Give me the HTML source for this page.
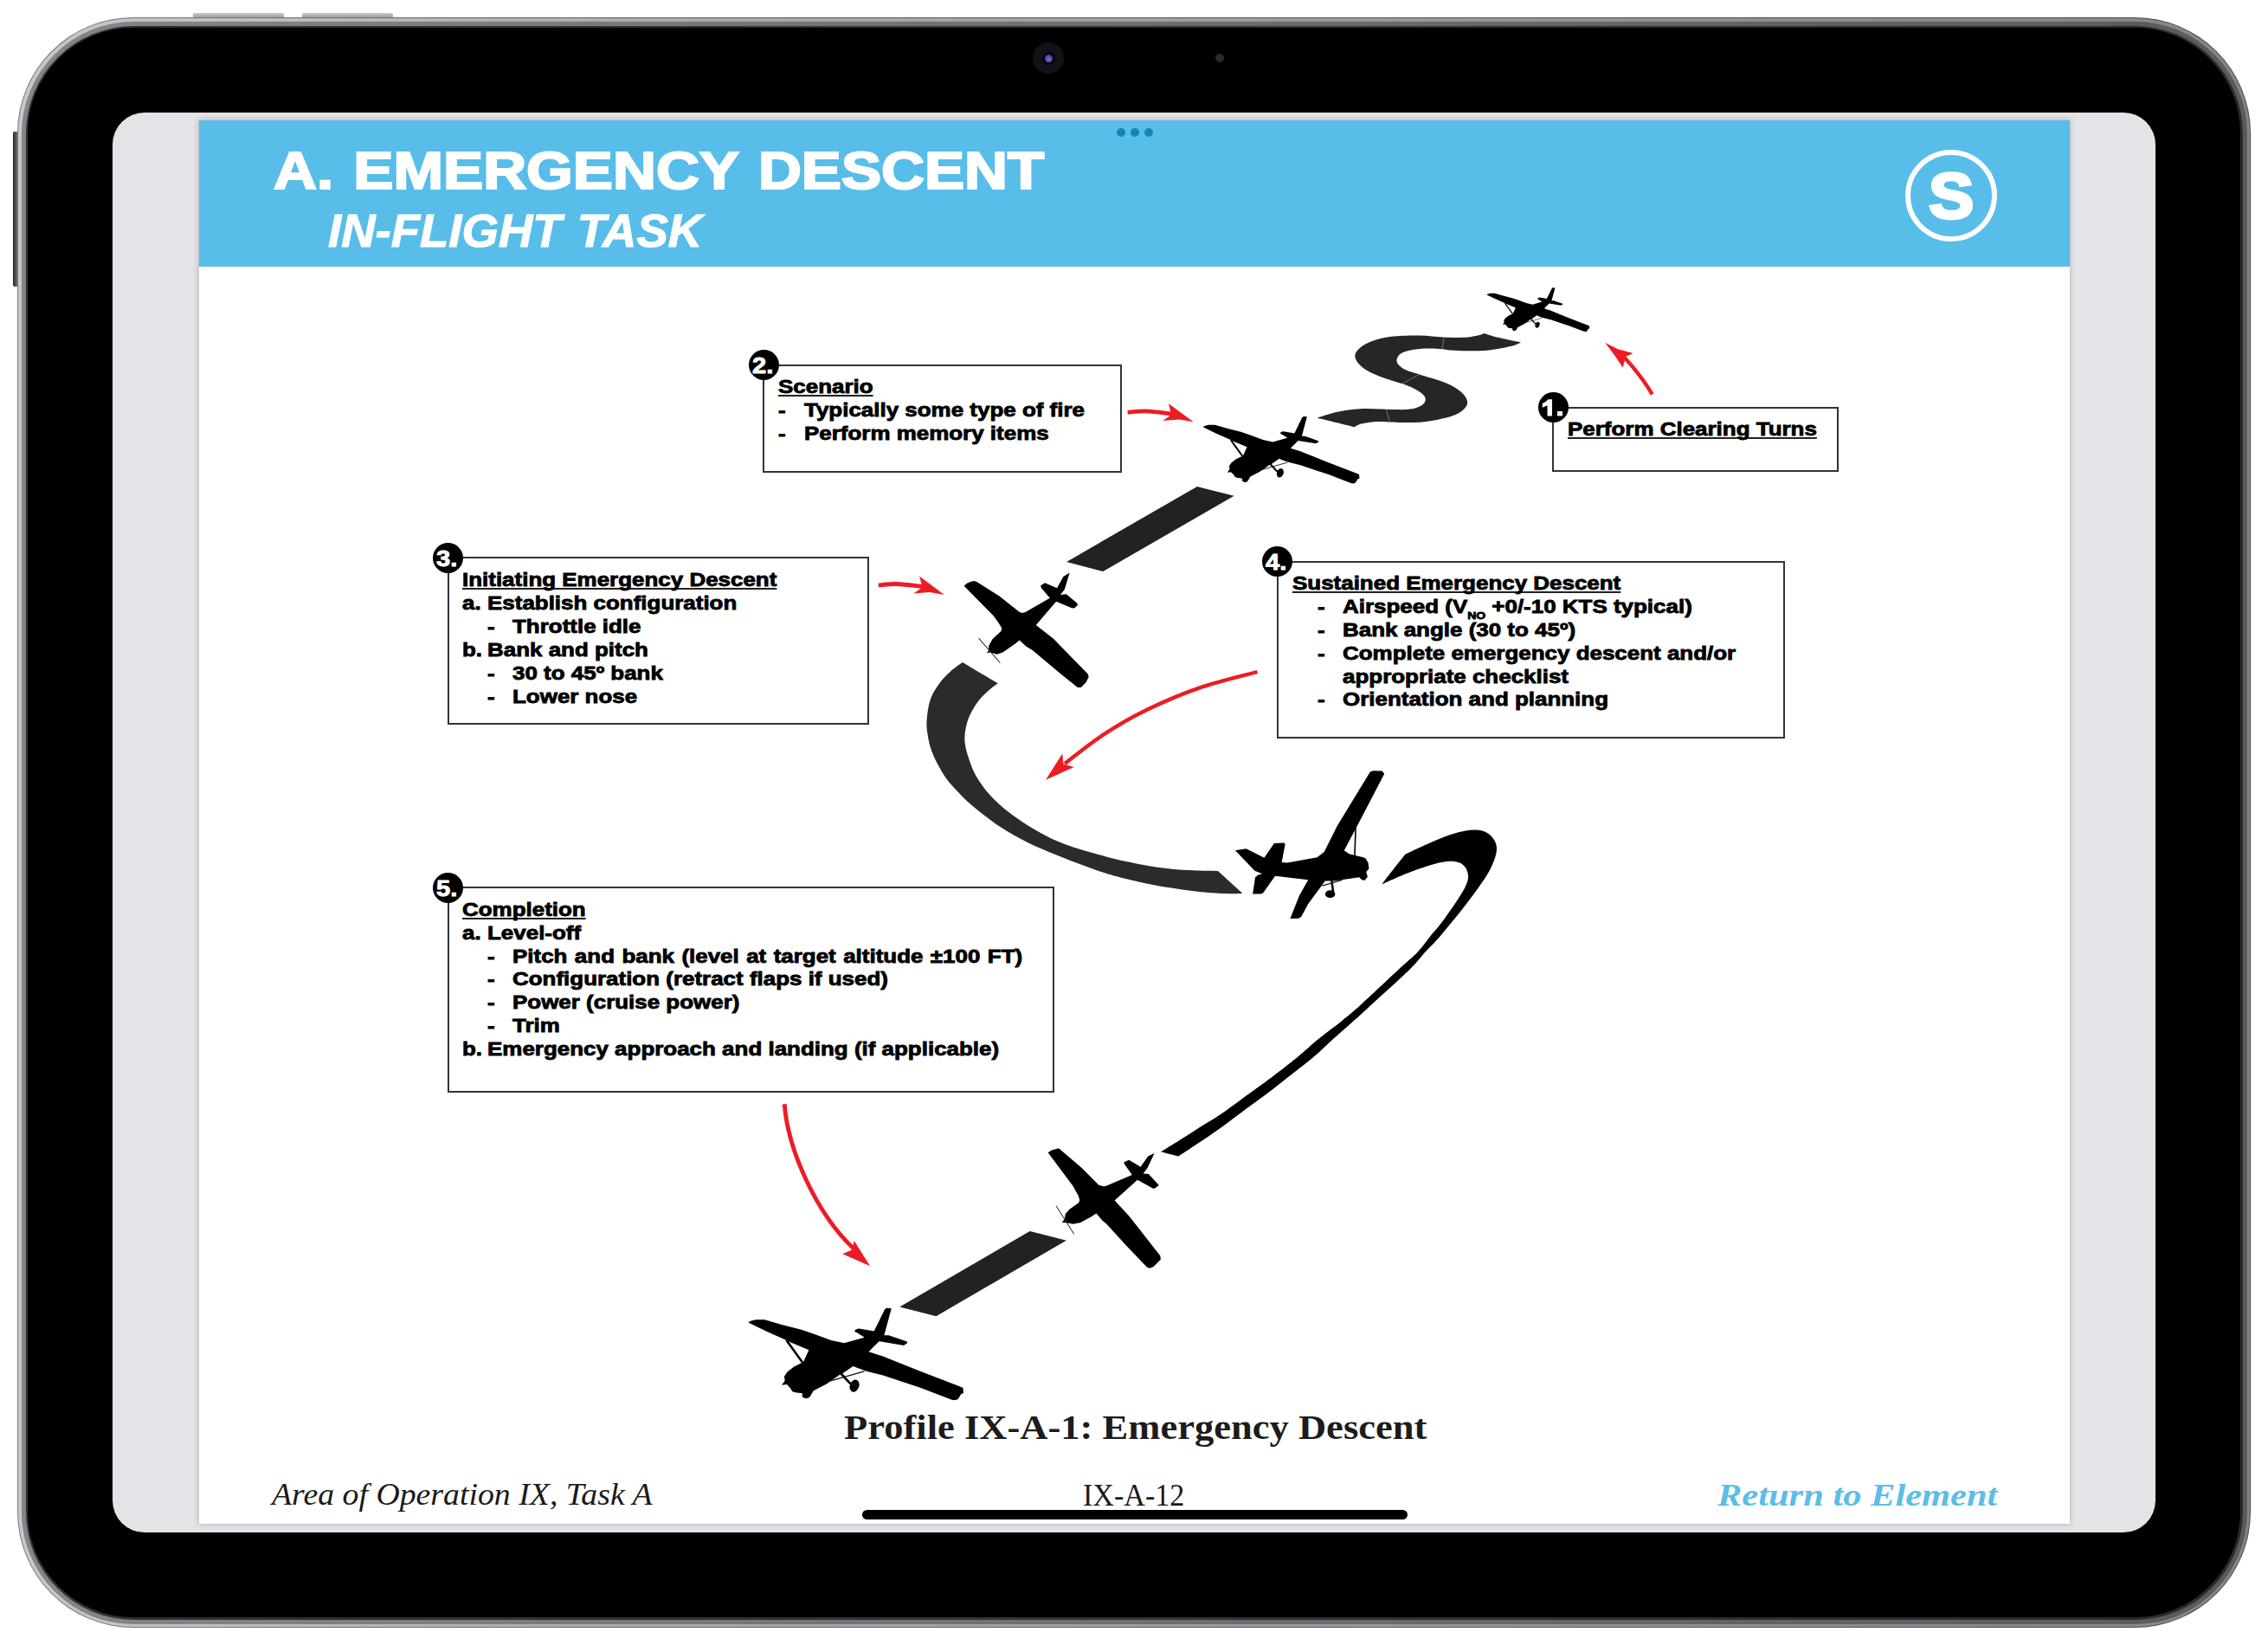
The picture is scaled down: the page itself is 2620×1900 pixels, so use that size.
<!DOCTYPE html>
<html><head><meta charset="utf-8">
<style>
*{margin:0;padding:0;box-sizing:border-box}
html,body{width:2620px;height:1900px;overflow:hidden;background:#fff}
body{position:relative;font-family:"Liberation Sans",sans-serif}
.abs{position:absolute}
#rim{left:20px;top:20px;width:2580px;height:1860px;border-radius:134px;
 background:linear-gradient(90deg,#7a797d 0%,#626165 30%,#58585c 60%,#4a494c 100%)}
#rim2{left:21.2px;top:21.2px;width:2577.6px;height:1857.6px;border-radius:133px;
 background:linear-gradient(90deg,#c8c7cb 0%,#adacb0 25%,#a09fa3 50%,#918f93 75%,#858487 100%)}
#rim3{left:24.5px;top:24.5px;width:2571px;height:1851px;border-radius:129.5px;
 background:linear-gradient(90deg,#858488 0%,#78777b 30%,#6e6d71 50%,#5a595c 100%)}
#rim4{left:29.5px;top:29.5px;width:2561px;height:1841px;border-radius:124.5px;
 background:linear-gradient(90deg,#303030,#353535 50%,#2a2a2a)}
#bezel{left:32px;top:32px;width:2556px;height:1836px;border-radius:122px;background:#000}
.btn{background:linear-gradient(#c8c8ca,#8a8a8c);border-radius:2px}
#screen{left:130px;top:130px;width:2360px;height:1640px;border-radius:37px;background:#e4e3e8;overflow:hidden}
#page{left:230px;top:139px;width:2161px;height:1621px;background:#fff;
 box-shadow:0 0 6px 1px rgba(0,0,0,0.18)}
#hdr{left:230px;top:139px;width:2161px;height:169px;background:#58bde9}
.t{position:absolute;white-space:pre;transform-origin:0 0;line-height:27px}
.b{font-weight:bold;font-size:21.4px;color:#000}
.u{text-decoration:underline;text-decoration-thickness:2px;text-underline-offset:2px}
.box{position:absolute;border:2px solid #333;background:transparent}
.num{position:absolute;width:35px;height:35px;border-radius:50%;background:#000}
.numt{position:absolute;color:#fff;font-weight:bold;font-size:26px;line-height:26px;white-space:pre;transform-origin:0 0}
</style></head><body>
<div class="abs btn" style="left:223px;top:15px;width:105px;height:8px"></div>
<div class="abs btn" style="left:349px;top:15px;width:105px;height:8px"></div>
<div class="abs" style="left:15px;top:152px;width:9px;height:179px;background:linear-gradient(90deg,#222,#6a6a6c 50%,#333);border-radius:2px"></div>
<div id="rim" class="abs"></div>
<div id="rim2" class="abs"></div>
<div id="rim3" class="abs"></div>
<div id="rim4" class="abs"></div>
<div id="bezel" class="abs"></div>
<div class="abs" style="left:1193px;top:49px;width:36px;height:36px;border-radius:50%;background:#141118"></div>
<div class="abs" style="left:1203.5px;top:59.5px;width:15px;height:15px;border-radius:50%;background:#05050c"></div>
<div class="abs" style="left:1206.5px;top:62.5px;width:9px;height:9px;border-radius:50%;background:radial-gradient(circle at 50% 60%,#8a6ad0,#3a4aa0 60%,#1a2050)"></div>
<div class="abs" style="left:1404px;top:62px;width:10px;height:10px;border-radius:50%;background:#2a2a2a"></div>
<div id="screen" class="abs"></div>
<div id="page" class="abs"></div>
<div id="hdr" class="abs"></div>
<div class="abs" style="left:1289.8px;top:148px;width:10px;height:10px;border-radius:50%;background:#1484b9"></div>
<div class="abs" style="left:1305.7px;top:148px;width:10px;height:10px;border-radius:50%;background:#1484b9"></div>
<div class="abs" style="left:1321.8px;top:148px;width:10px;height:10px;border-radius:50%;background:#1484b9"></div>
<div class="t" style="left:315.5px;top:160.12px;font-size:62px;line-height:74px;transform:scaleX(1.115);font-weight:bold;color:#fff;-webkit-text-stroke:2.2px #fff;word-spacing:3.6px;">A. EMERGENCY DESCENT</div><div class="t" style="left:378.5px;top:233.79px;font-size:54px;line-height:65px;transform:scaleX(1.01);font-weight:bold;font-style:italic;color:#fff;-webkit-text-stroke:1.1px #fff;word-spacing:3px;">IN-FLIGHT TASK</div><div class="abs" style="left:2201.3px;top:172.6px;width:106px;height:106px;border-radius:50%;border:6.5px solid #fff"></div><div class="t" style="left:2228.0px;top:181.31px;font-size:75px;line-height:90px;transform:scaleX(1.045);font-weight:bold;color:#fff;-webkit-text-stroke:3.5px #fff;">S</div>
<svg class="abs" style="left:0;top:0" width="2620" height="1900" viewBox="0 0 2620 1900">
<defs><g id="planeA"><path d="M60,305 L100,285 L180,265 L320,265 L600,345 L900,420 L1100,490 L1370,590 L1580,635 L1900,545 L1782,470 L1740,450 L1760,420 L1810,405 L2052,445 L2222,100 L2252,80 L2327,85 L2212,510 L2282,510 L2572,610 L2582,630 L2522,670 L2132,605 L1967,770 L2182,840 L2782,1080 L3432,1330 L3462,1345 L3467,1430 L3432,1440 L3382,1520 L3332,1540 L3282,1530 L2782,1340 L2182,1140 L1957,1085 L1902,1070 L1782,1025 L1720,1000 L1560,1110 L1500,1140 L1300,1280 L1090,1390 L1040,1480 L1010,1505 L960,1510 L910,1480 L920,1440 L900,1425 L820,1420 L760,1400 L720,1340 L670,1290 L590,1300 L640,1230 L630,1160 L680,1090 L780,1010 L900,950 L940,920 L1020,745 L700,610 L640,580 L350,450 L80,320 Z" fill="#000"/><line x1="665" y1="590" x2="915" y2="935" stroke="#000" stroke-width="36"/><line x1="1530" y1="1120" x2="1680" y2="1280" stroke="#000" stroke-width="38"/><ellipse cx="1742" cy="1310" rx="72" ry="100" transform="rotate(20 1742 1310)" fill="#000"/><line x1="1340" y1="1240" x2="1900" y2="1080" stroke="#111" stroke-width="17"/></g></defs>
<path d="M1756.9,395.5 C1756.9,395.5 1738.8,391.9 1731.7,390.1 C1724.6,388.3 1714.5,384.9 1714.5,384.9 C1714.5,384.9 1709.7,387 1705.9,387.8 C1702.1,388.6 1698,389.5 1691.6,389.8 C1685.2,390.1 1676.1,389.9 1667.5,389.5 C1658.9,389.1 1650.1,387.6 1640,387.5 C1629.9,387.4 1616.2,387.7 1607,388.8 C1597.8,389.9 1590.9,392 1585,394.1 C1579.1,396.2 1574.9,398.7 1571.7,401.2 C1568.5,403.7 1566.3,406.5 1565.6,409.1 C1564.9,411.7 1565.5,414.2 1567.3,417 C1569,419.8 1571.7,422.9 1576.1,425.9 C1580.5,428.8 1586.6,431.8 1593.8,434.7 C1601,437.6 1612.7,440.8 1619.3,443.1 C1625.9,445.5 1629.4,446.7 1633.5,448.8 C1637.6,450.9 1641.8,453.6 1644,455.8 C1646.2,458 1647,459.9 1646.7,462 C1646.4,464.1 1645.2,466.4 1642.3,468.2 C1639.3,470 1634.9,471.8 1629,472.6 C1623.1,473.4 1616.5,473.1 1607,473 C1597.5,472.9 1582,471.8 1571.7,472.2 C1561.4,472.6 1553.7,473.9 1545.3,475.7 C1536.9,477.4 1521.5,482.7 1521.5,482.7 C1521.5,482.7 1564.7,493.3 1564.7,493.3 C1564.7,493.3 1567.6,490.8 1571.7,489.8 C1575.8,488.8 1583.8,487.5 1589.4,487.1 C1595,486.7 1597.9,487.2 1605.2,487.4 C1612.5,487.5 1624.4,488.4 1633.5,488 C1642.6,487.6 1651.8,486.4 1659.9,484.9 C1668,483.4 1676.4,481.3 1682,478.8 C1687.6,476.3 1691.4,472.8 1693.4,469.9 C1695.5,466.9 1695.5,464.2 1694.3,461.1 C1693.1,458 1690.7,454.6 1686.4,451.4 C1682.1,448.2 1676.5,444.8 1668.7,441.7 C1660.9,438.6 1646.9,434.9 1639.6,432.5 C1632.2,430.1 1628.6,429.5 1624.6,427.6 C1620.6,425.8 1617.6,423.4 1615.8,421.4 C1614,419.3 1613.1,417.5 1613.6,415.3 C1614,413.1 1615.2,410.1 1618.5,408.2 C1621.8,406.3 1628.1,404.8 1633.5,403.8 C1638.9,402.9 1645.8,402.6 1651.1,402.5 C1656.4,402.4 1661.6,403 1665.5,403.3 C1669.4,403.6 1669.1,404.1 1674.4,404.4 C1679.7,404.7 1689.7,405.3 1697.3,405.3 C1704.9,405.3 1712.1,405.3 1720.2,404.4 C1728.3,403.5 1739.9,401.3 1746,399.8 C1752.1,398.3 1756.9,395.5 1756.9,395.5 Z" fill="#262626"/><g stroke="#8a8a8a" stroke-width="0.8"><line x1="1668.1" y1="389.7" x2="1666.1" y2="403.2"/><line x1="1638.7" y1="432.9" x2="1620.2" y2="443.1"/><line x1="1601.3" y1="472.6" x2="1605.2" y2="487.1"/></g><path d="M1382.9,562.1 L1425.6,572.8 L1274.3,660.1 L1232.1,648.9 Z" fill="#222"/><path d="M1111.9,765.1 C1111.9,765.1 1102.7,771.3 1098.3,775.3 C1093.9,779.3 1089,784.3 1085.5,788.9 C1082,793.5 1079.1,798.2 1077,802.6 C1074.9,807 1073.9,810.3 1072.8,815.3 C1071.7,820.2 1070.9,827.3 1070.6,832.3 C1070.3,837.3 1070.4,840.1 1071.1,845.1 C1071.8,850.1 1072.8,856.4 1074.5,862.1 C1076.2,867.8 1078.2,873 1081.3,879.1 C1084.4,885.2 1088.8,893.1 1093,899 C1097.2,904.9 1101.7,909.4 1106.5,914.5 C1111.3,919.6 1113.9,922.7 1121.9,929.4 C1129.9,936.1 1143.8,947.3 1154.7,954.6 C1165.6,961.9 1176.6,967.7 1187.5,973.2 C1198.4,978.7 1209.9,983.1 1220.3,987.4 C1230.7,991.7 1240,995.3 1250,999 C1260,1002.7 1268.4,1006 1280,1009.4 C1291.6,1012.8 1307.8,1016.8 1319.7,1019.4 C1331.6,1022 1340.8,1023.6 1351.4,1025.3 C1362,1027 1372.6,1028.6 1383.2,1029.7 C1393.8,1030.8 1406.2,1031.7 1414.9,1032.1 C1423.6,1032.5 1435.6,1032.1 1435.6,1032.1 C1435.6,1032.1 1407,1005.9 1407,1005.9 C1407,1005.9 1391.1,1005.8 1383.2,1005.5 C1375.3,1005.2 1368.7,1005.2 1359.4,1004.3 C1350.1,1003.4 1336.9,1001.8 1327.6,1000.3 C1318.3,998.8 1311.7,997.3 1303.8,995.6 C1295.9,993.9 1292.1,993.4 1280,990 C1267.9,986.6 1244.9,980.4 1231.3,975.4 C1217.7,970.4 1209.5,966.2 1198.5,960 C1187.5,953.8 1174.7,945.1 1165.6,938.2 C1156.5,931.3 1150.1,925.4 1143.8,918.5 C1137.5,911.6 1132,903.9 1128,897 C1124,890.1 1121.7,883.2 1119.6,877.4 C1117.5,871.6 1116.1,866.8 1115.3,862.1 C1114.5,857.4 1114.1,854.4 1114.5,849.4 C1114.9,844.4 1116.2,837.5 1117.9,832.3 C1119.6,827 1121.9,822.6 1124.7,817.9 C1127.5,813.2 1131.5,808.1 1134.9,804.3 C1138.3,800.5 1142.1,797.4 1145.1,794.9 C1148.1,792.4 1152.8,789.4 1152.8,789.4 C1152.8,789.4 1111.9,765.1 1111.9,765.1 Z" fill="#2b2b2b"/><path d="M1596.1,1021.5 C1596.1,1021.5 1623.3,986.8 1623.3,986.8 C1623.3,986.8 1662.5,968.1 1677.3,963.6 C1692.1,959.1 1703.5,957.4 1712,959.5 C1720.5,961.6 1726.8,968.8 1728.5,976 C1730.2,983.2 1727.2,992.3 1722,1003 C1716.8,1013.7 1706.5,1027.2 1697,1040 C1687.5,1052.8 1673.2,1070 1664.8,1080 C1656.3,1090 1652.4,1093.1 1646.3,1099.8 C1640.2,1106.5 1639.2,1109.2 1628.2,1120 C1617.2,1130.8 1591.5,1153.9 1580,1164.4 C1568.5,1174.9 1566.2,1176.9 1559.4,1182.9 C1552.7,1188.9 1546.3,1194.4 1539.5,1200.6 C1532.7,1206.8 1525.8,1213.7 1518.4,1220 C1511,1226.3 1503.5,1232.1 1495.2,1238.6 C1486.9,1245.1 1477.6,1252.5 1468.8,1259.2 C1460,1265.9 1452.2,1271.5 1442.3,1278.8 C1432.4,1286.1 1419.3,1296.2 1409.4,1303.3 C1399.5,1310.4 1390.9,1315.9 1382.9,1321.3 C1374.9,1326.7 1361.2,1335.6 1361.2,1335.6 C1361.2,1335.6 1341.1,1330.3 1341.1,1330.3 C1341.1,1330.3 1349.5,1325.2 1356.5,1320.8 C1363.5,1316.4 1374.1,1309.5 1382.9,1303.9 C1391.7,1298.4 1400.9,1293.2 1409.4,1287.5 C1417.9,1281.8 1425.6,1275.9 1433.7,1270 C1441.8,1264.1 1449.7,1258.6 1458.2,1252.3 C1466.7,1246 1477.7,1237.6 1484.7,1232.2 C1491.7,1226.8 1493.4,1225.5 1500,1220 C1506.6,1214.5 1515.8,1206 1524.1,1199.2 C1532.4,1192.4 1541.6,1185.9 1549.7,1179.4 C1557.8,1172.9 1561.6,1169.9 1572.6,1160 C1583.5,1150.1 1604.6,1130 1615.4,1120 C1626.2,1110 1631.2,1106.5 1637.5,1099.8 C1643.8,1093.1 1648.4,1086.2 1653.4,1080 C1658.4,1073.8 1661.1,1071.8 1667.5,1062.8 C1673.9,1053.8 1687.2,1035 1691.9,1025.9 C1696.6,1016.8 1696.5,1012.9 1695.5,1008 C1694.5,1003.1 1691.1,998.5 1686,996.5 C1680.9,994.5 1674.6,994.2 1665,996 C1655.4,997.8 1640.1,1003.1 1628.6,1007.4 C1617.1,1011.6 1596.1,1021.5 1596.1,1021.5 Z" fill="#000"/><path d="M1189.7,1422 L1231.9,1432.7 L1081.4,1520.2 L1039.3,1509.5 Z" fill="#222"/>
<use href="#planeA" transform="translate(1715.30,329.50) scale(0.03487)"/><use href="#planeA" transform="translate(1386.50,476.80) scale(0.05304)"/><g transform="translate(1100,650) scale(0.09725)"><path d="M140,275 L175,245 L230,220 L265,215 L295,228 L560,395 L800,585 L830,597 L870,587 L1160,420 L1055,295 L1052,270 L1100,240 L1245,300 L1320,165 L1395,118 L1335,315 L1285,380 L1355,372 L1485,480 L1490,505 L1450,540 L1420,537 L1235,460 L995,740 L1200,900 L1610,1320 L1622,1355 L1590,1420 L1530,1480 L1490,1482 L1300,1330 L950,1035 L880,995 L800,920 L745,965 L600,1065 L530,1087 L480,1072 L440,1065 L410,1075 L432,1040 L435,985 L480,905 L580,812 L590,780 L555,720 L490,630 Z" fill="#000"/><line x1="315" y1="895" x2="570" y2="1190" stroke="#333" stroke-width="11"/></g><g transform="translate(1420,880) scale(0.11547)"><path d="M1410,100 L1440,88 L1530,90 L1552,118 L1280,640 L1150,885 L1200,920 L1340,955 L1365,965 L1390,1010 L1398,1070 L1370,1100 L1385,1150 L1355,1185 L1330,1182 L1300,1155 L1050,1190 L960,1190 L790,1420 L720,1550 L690,1565 L610,1567 L700,1340 L790,1180 L460,1140 L340,1310 L320,1320 L235,1320 L260,1155 L290,1130 L330,1120 L255,1090 L60,885 L170,868 L350,960 L450,815 L550,810 L560,822 L525,1005 L580,1010 L880,955 L950,900 L1080,640 Z" fill="#000"/><line x1="1025" y1="1190" x2="1040" y2="1300" stroke="#000" stroke-width="22"/><ellipse cx="1010" cy="1322" rx="50" ry="38" fill="#000"/><line x1="1265" y1="660" x2="1255" y2="945" stroke="#000" stroke-width="14"/><line x1="930" y1="1240" x2="1130" y2="1180" stroke="#222" stroke-width="12"/></g><g transform="translate(1190,1310) scale(0.10333)"><path d="M200,205 L240,180 L320,158 L580,380 L770,570 L820,583 L850,578 L1140,455 L1050,330 L1050,312 L1105,288 L1235,365 L1320,245 L1390,213 L1310,380 L1265,440 L1325,445 L1440,570 L1390,607 L1375,607 L1200,510 L945,740 L1110,920 L1455,1360 L1460,1400 L1380,1480 L1340,1497 L1310,1490 L1080,1250 L850,1000 L810,968 L740,885 L710,905 L690,920 L560,990 L480,1005 L430,995 L355,985 L385,950 L395,890 L440,840 L540,770 L555,740 L540,690 L480,580 Z" fill="#000"/><line x1="290" y1="800" x2="490" y2="1115" stroke="#333" stroke-width="10"/></g><use href="#planeA" transform="translate(860.00,1505.00) scale(0.07296)"/>
<path d="M1908.6,455.5 C1901.3,442.5 1886.7,423.2 1875,411.5" fill="none" stroke="#ec1c24" stroke-width="4.4"/><path d="M1854.1,395.7 L1869,403.3 L1886.7,407.9 L1878.4,411.8 L1874.5,424.4 L1865.3,410.5 Z" fill="#ec1c24"/><path d="M1302.6,476.3 C1306.1,476.1 1316,474.7 1323.9,474.9 C1331.8,475.1 1344.3,476.9 1350,477.6 C1355.7,478.3 1356.7,478.8 1358,479" fill="none" stroke="#ec1c24" stroke-width="4.8"/><path d="M1349.9,465.9 L1362,475 L1378.7,487.3 L1362,484.5 L1343.1,486 L1352.5,479.5 L1352,474 Z" fill="#ec1c24"/><path d="M1014.8,675.9 C1018.4,675.7 1028.2,674.3 1036.1,674.5 C1044,674.7 1056.5,676.5 1062.2,677.2 C1067.9,677.9 1068.9,678.4 1070.2,678.6" fill="none" stroke="#ec1c24" stroke-width="4.8"/><path d="M1062.1,665.5 L1074.2,674.6 L1090.9,686.9 L1074.2,684.1 L1055.3,685.6 L1064.7,679.1 L1064.2,673.6 Z" fill="#ec1c24"/><path d="M1452.5,776 C1441.3,779.1 1406.7,787.2 1385.2,794.6 C1363.7,802 1342,811.5 1323.5,820.5 C1305,829.5 1289.7,838.6 1274.1,848.9 C1258.5,859.1 1237.3,876.5 1230,882" fill="none" stroke="#ec1c24" stroke-width="4.3"/><path d="M1208,900.7 L1227.2,870.5 L1228.5,882.5 L1240.7,885.9 Z" fill="#ec1c24"/><path d="M906.2,1275.3 C910.2,1328 943,1402 987,1443" fill="none" stroke="#ec1c24" stroke-width="4.8"/><path d="M1005.1,1462.3 L973.2,1448.3 L984.5,1443.5 L986.6,1433 Z" fill="#ec1c24"/>
</svg>
<div class="box" style="left:1793.3px;top:469.6px;width:330.5px;height:75.6px"></div><div class="num" style="left:1776.8px;top:453.1px"></div><svg class="abs" style="left:0;top:0" width="2620" height="1900"><path d="M1787.5,480.4 L1793.0,480.4 L1793.0,461.2 L1788.5,461.2 L1785.5,464.0 L1781.8,466.1 L1781.8,470.8 L1787.5,468.3 Z" fill="#fff"/><rect x="1799.0" y="475.0" width="6" height="5.4" fill="#fff"/></svg><div class="t" style="left:1811.0px;top:482.78px;font-size:21.4px;line-height:26px;transform:scaleX(1.213);font-weight:bold;color:#000;-webkit-text-stroke:0.8px #000;text-decoration:underline;text-decoration-thickness:1.7px;text-underline-offset:1.6px;text-decoration-color:#222;text-decoration-skip-ink:none;">Perform Clearing Turns</div><div class="box" style="left:881.4px;top:420.6px;width:414.3px;height:125.2px"></div><div class="num" style="left:864.9px;top:404.1px"></div><div class="t" style="left:868.6px;top:406.22px;font-size:26.5px;line-height:32px;transform:scaleX(1.1);font-weight:bold;color:#fff;-webkit-text-stroke:0.9px #fff;">2.</div><div class="t" style="left:899.0px;top:433.58px;font-size:21.4px;line-height:26px;transform:scaleX(1.213);font-weight:bold;color:#000;-webkit-text-stroke:0.8px #000;text-decoration:underline;text-decoration-thickness:1.7px;text-underline-offset:1.6px;text-decoration-color:#222;text-decoration-skip-ink:none;">Scenario</div><div class="t" style="left:899.0px;top:460.68px;font-size:21.4px;line-height:26px;transform:scaleX(1.213);font-weight:bold;color:#000;-webkit-text-stroke:0.8px #000;">-</div><div class="t" style="left:928.9px;top:460.68px;font-size:21.4px;line-height:26px;transform:scaleX(1.213);font-weight:bold;color:#000;-webkit-text-stroke:0.8px #000;">Typically some type of fire</div><div class="t" style="left:899.0px;top:487.58px;font-size:21.4px;line-height:26px;transform:scaleX(1.213);font-weight:bold;color:#000;-webkit-text-stroke:0.8px #000;">-</div><div class="t" style="left:928.9px;top:487.58px;font-size:21.4px;line-height:26px;transform:scaleX(1.213);font-weight:bold;color:#000;-webkit-text-stroke:0.8px #000;">Perform memory items</div><div class="box" style="left:516.5px;top:643.1px;width:487.6px;height:194.1px"></div><div class="num" style="left:500.0px;top:626.6px"></div><div class="t" style="left:503.7px;top:628.72px;font-size:26.5px;line-height:32px;transform:scaleX(1.1);font-weight:bold;color:#fff;-webkit-text-stroke:0.9px #fff;">3.</div><div class="t" style="left:534.0px;top:656.88px;font-size:21.4px;line-height:26px;transform:scaleX(1.213);font-weight:bold;color:#000;-webkit-text-stroke:0.8px #000;text-decoration:underline;text-decoration-thickness:1.7px;text-underline-offset:1.6px;text-decoration-color:#222;text-decoration-skip-ink:none;">Initiating Emergency Descent</div><div class="t" style="left:534.0px;top:683.98px;font-size:21.4px;line-height:26px;transform:scaleX(1.213);font-weight:bold;color:#000;-webkit-text-stroke:0.8px #000;">a.</div><div class="t" style="left:562.9px;top:683.98px;font-size:21.4px;line-height:26px;transform:scaleX(1.213);font-weight:bold;color:#000;-webkit-text-stroke:0.8px #000;">Establish configuration</div><div class="t" style="left:563.0px;top:711.08px;font-size:21.4px;line-height:26px;transform:scaleX(1.213);font-weight:bold;color:#000;-webkit-text-stroke:0.8px #000;">-</div><div class="t" style="left:592.0px;top:711.08px;font-size:21.4px;line-height:26px;transform:scaleX(1.213);font-weight:bold;color:#000;-webkit-text-stroke:0.8px #000;">Throttle idle</div><div class="t" style="left:534.0px;top:738.18px;font-size:21.4px;line-height:26px;transform:scaleX(1.213);font-weight:bold;color:#000;-webkit-text-stroke:0.8px #000;">b.</div><div class="t" style="left:562.9px;top:738.18px;font-size:21.4px;line-height:26px;transform:scaleX(1.213);font-weight:bold;color:#000;-webkit-text-stroke:0.8px #000;">Bank and pitch</div><div class="t" style="left:563.0px;top:765.18px;font-size:21.4px;line-height:26px;transform:scaleX(1.213);font-weight:bold;color:#000;-webkit-text-stroke:0.8px #000;">-</div><div class="t" style="left:592.0px;top:765.18px;font-size:21.4px;line-height:26px;transform:scaleX(1.213);font-weight:bold;color:#000;-webkit-text-stroke:0.8px #000;">30 to 45º bank</div><div class="t" style="left:563.0px;top:792.18px;font-size:21.4px;line-height:26px;transform:scaleX(1.213);font-weight:bold;color:#000;-webkit-text-stroke:0.8px #000;">-</div><div class="t" style="left:592.0px;top:792.18px;font-size:21.4px;line-height:26px;transform:scaleX(1.213);font-weight:bold;color:#000;-webkit-text-stroke:0.8px #000;">Lower nose</div><div class="box" style="left:1474.8px;top:647.6px;width:586.8px;height:205.4px"></div><div class="num" style="left:1458.3px;top:631.1px"></div><div class="t" style="left:1462.0px;top:633.22px;font-size:26.5px;line-height:32px;transform:scaleX(1.1);font-weight:bold;color:#fff;-webkit-text-stroke:0.9px #fff;">4.</div><div class="t" style="left:1492.5px;top:660.68px;font-size:21.4px;line-height:26px;transform:scaleX(1.213);font-weight:bold;color:#000;-webkit-text-stroke:0.8px #000;text-decoration:underline;text-decoration-thickness:1.7px;text-underline-offset:1.6px;text-decoration-color:#222;text-decoration-skip-ink:none;">Sustained Emergency Descent</div><div class="t" style="left:1521.7px;top:687.78px;font-size:21.4px;line-height:26px;transform:scaleX(1.213);font-weight:bold;color:#000;-webkit-text-stroke:0.8px #000;">-</div><div class="t" style="left:1550.6px;top:687.78px;font-size:21.4px;line-height:26px;transform:scaleX(1.213);font-weight:bold;color:#000;-webkit-text-stroke:0.8px #000;">Airspeed (V<span style="font-size:11.5px;position:relative;top:7px">NO</span> +0/-10 KTS typical)</div><div class="t" style="left:1521.7px;top:714.78px;font-size:21.4px;line-height:26px;transform:scaleX(1.213);font-weight:bold;color:#000;-webkit-text-stroke:0.8px #000;">-</div><div class="t" style="left:1550.6px;top:714.78px;font-size:21.4px;line-height:26px;transform:scaleX(1.213);font-weight:bold;color:#000;-webkit-text-stroke:0.8px #000;">Bank angle (30 to 45º)</div><div class="t" style="left:1521.7px;top:741.68px;font-size:21.4px;line-height:26px;transform:scaleX(1.213);font-weight:bold;color:#000;-webkit-text-stroke:0.8px #000;">-</div><div class="t" style="left:1550.6px;top:741.68px;font-size:21.4px;line-height:26px;transform:scaleX(1.213);font-weight:bold;color:#000;-webkit-text-stroke:0.8px #000;">Complete emergency descent and/or</div><div class="t" style="left:1550.6px;top:768.58px;font-size:21.4px;line-height:26px;transform:scaleX(1.213);font-weight:bold;color:#000;-webkit-text-stroke:0.8px #000;">appropriate checklist</div><div class="t" style="left:1521.7px;top:795.48px;font-size:21.4px;line-height:26px;transform:scaleX(1.213);font-weight:bold;color:#000;-webkit-text-stroke:0.8px #000;">-</div><div class="t" style="left:1550.6px;top:795.48px;font-size:21.4px;line-height:26px;transform:scaleX(1.213);font-weight:bold;color:#000;-webkit-text-stroke:0.8px #000;">Orientation and planning</div><div class="box" style="left:516.7px;top:1024.1px;width:701.2px;height:237.9px"></div><div class="num" style="left:500.2px;top:1007.6px"></div><div class="t" style="left:503.9px;top:1009.72px;font-size:26.5px;line-height:32px;transform:scaleX(1.1);font-weight:bold;color:#fff;-webkit-text-stroke:0.9px #fff;">5.</div><div class="t" style="left:534.0px;top:1037.78px;font-size:21.4px;line-height:26px;transform:scaleX(1.213);font-weight:bold;color:#000;-webkit-text-stroke:0.8px #000;text-decoration:underline;text-decoration-thickness:1.7px;text-underline-offset:1.6px;text-decoration-color:#222;text-decoration-skip-ink:none;">Completion</div><div class="t" style="left:534.0px;top:1064.68px;font-size:21.4px;line-height:26px;transform:scaleX(1.213);font-weight:bold;color:#000;-webkit-text-stroke:0.8px #000;">a.</div><div class="t" style="left:563.4px;top:1064.68px;font-size:21.4px;line-height:26px;transform:scaleX(1.213);font-weight:bold;color:#000;-webkit-text-stroke:0.8px #000;">Level-off</div><div class="t" style="left:563.4px;top:1091.58px;font-size:21.4px;line-height:26px;transform:scaleX(1.213);font-weight:bold;color:#000;-webkit-text-stroke:0.8px #000;">-</div><div class="t" style="left:592.0px;top:1091.58px;font-size:21.4px;line-height:26px;transform:scaleX(1.213);font-weight:bold;color:#000;-webkit-text-stroke:0.8px #000;word-spacing:1.0px;">Pitch and bank (level at target altitude ±100 FT)</div><div class="t" style="left:563.4px;top:1118.48px;font-size:21.4px;line-height:26px;transform:scaleX(1.213);font-weight:bold;color:#000;-webkit-text-stroke:0.8px #000;">-</div><div class="t" style="left:592.0px;top:1118.48px;font-size:21.4px;line-height:26px;transform:scaleX(1.213);font-weight:bold;color:#000;-webkit-text-stroke:0.8px #000;">Configuration (retract flaps if used)</div><div class="t" style="left:563.4px;top:1145.38px;font-size:21.4px;line-height:26px;transform:scaleX(1.213);font-weight:bold;color:#000;-webkit-text-stroke:0.8px #000;">-</div><div class="t" style="left:592.0px;top:1145.38px;font-size:21.4px;line-height:26px;transform:scaleX(1.213);font-weight:bold;color:#000;-webkit-text-stroke:0.8px #000;">Power (cruise power)</div><div class="t" style="left:563.4px;top:1172.28px;font-size:21.4px;line-height:26px;transform:scaleX(1.213);font-weight:bold;color:#000;-webkit-text-stroke:0.8px #000;">-</div><div class="t" style="left:592.0px;top:1172.28px;font-size:21.4px;line-height:26px;transform:scaleX(1.213);font-weight:bold;color:#000;-webkit-text-stroke:0.8px #000;">Trim</div><div class="t" style="left:534.0px;top:1199.18px;font-size:21.4px;line-height:26px;transform:scaleX(1.213);font-weight:bold;color:#000;-webkit-text-stroke:0.8px #000;">b.</div><div class="t" style="left:563.4px;top:1199.18px;font-size:21.4px;line-height:26px;transform:scaleX(1.213);font-weight:bold;color:#000;-webkit-text-stroke:0.8px #000;">Emergency approach and landing (if applicable)</div>
<div class="t" style="left:975.1px;top:1624.03px;font-size:40.5px;line-height:49px;transform:scaleX(1.1);font-family:'Liberation Serif',serif;font-weight:bold;color:#1c1c1c;">Profile IX-A-1: Emergency Descent</div><div class="t" style="left:1251.0px;top:1706.32px;font-size:35.5px;line-height:43px;transform:scaleX(0.96);font-family:'Liberation Serif',serif;color:#1a1a1a;">IX-A-12</div><div class="t" style="left:314.0px;top:1706.09px;font-size:35px;line-height:42px;transform:scaleX(1.08);font-family:'Liberation Serif',serif;font-style:italic;color:#1a1a1a;">Area of Operation IX, Task A</div><div class="t" style="left:1984.0px;top:1705.55px;font-size:36px;line-height:43px;transform:scaleX(1.18);font-family:'Liberation Serif',serif;font-style:italic;font-weight:bold;color:#5bbde8;">Return to Element</div>
<div class="abs" style="left:996px;top:1744px;width:630px;height:11px;border-radius:6px;background:#000"></div>
</body></html>
